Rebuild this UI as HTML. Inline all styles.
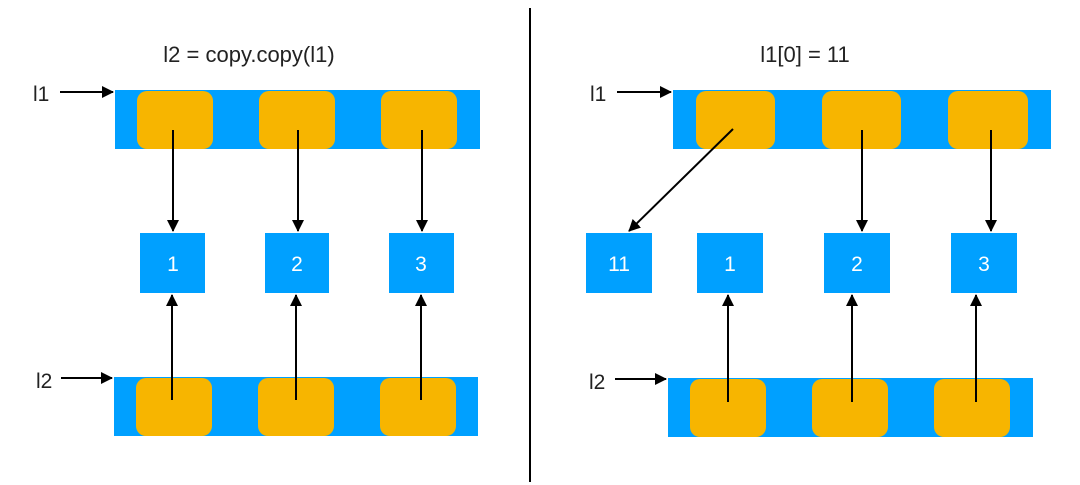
<!DOCTYPE html>
<html><head><meta charset="utf-8"><style>
html,body{margin:0;padding:0;background:#fff;}
svg{display:block;}
text{font-family:"Liberation Sans",sans-serif;}
</style></head><body>
<svg width="1080" height="485" viewBox="0 0 1080 485" xmlns="http://www.w3.org/2000/svg">
<defs>
<marker id="a" markerWidth="12" markerHeight="12" refX="11" refY="6" orient="auto" markerUnits="userSpaceOnUse">
<path d="M0,0 L12,6 L0,12 z" fill="#000"/></marker>
</defs>
<line x1="530" y1="8" x2="530" y2="482" stroke="#000" stroke-width="2"/>
<text x="249" y="62" font-size="22" text-anchor="middle" fill="#222">l2 = copy.copy(l1)</text>
<text x="805" y="62" font-size="22" text-anchor="middle" fill="#222">l1[0] = 11</text>

<!-- left top -->
<text x="33" y="101" font-size="21" fill="#222">l1</text>
<line x1="60" y1="92" x2="113" y2="92" stroke="#000" stroke-width="2" marker-end="url(#a)"/>
<rect x="115" y="90" width="365" height="59" fill="#00a0ff"/>
<rect x="137" y="91" width="76" height="58" rx="10" fill="#f7b500"/>
<rect x="259" y="91" width="76" height="58" rx="10" fill="#f7b500"/>
<rect x="381" y="91" width="76" height="58" rx="10" fill="#f7b500"/>
<g stroke="#000" stroke-width="2" marker-end="url(#a)">
<line x1="173" y1="130" x2="173" y2="231"/>
<line x1="298" y1="130" x2="298" y2="231"/>
<line x1="422" y1="130" x2="422" y2="231"/>
</g>
<g fill="#00a0ff">
<rect x="140" y="233" width="65" height="60"/>
<rect x="265" y="233" width="64" height="60"/>
<rect x="389" y="233" width="65" height="60"/>
</g>
<g font-size="21" fill="#fff" text-anchor="middle">
<text x="173" y="271">1</text><text x="297" y="271">2</text><text x="421" y="271">3</text>
</g>
<!-- left bottom -->
<text x="36" y="388" font-size="21" fill="#222">l2</text>
<line x1="61" y1="378" x2="112" y2="378" stroke="#000" stroke-width="2" marker-end="url(#a)"/>
<rect x="114" y="377" width="364" height="59" fill="#00a0ff"/>
<rect x="136" y="378" width="76" height="58" rx="10" fill="#f7b500"/>
<rect x="258" y="378" width="76" height="58" rx="10" fill="#f7b500"/>
<rect x="380" y="378" width="76" height="58" rx="10" fill="#f7b500"/>
<g stroke="#000" stroke-width="2" marker-end="url(#a)">
<line x1="172" y1="400" x2="172" y2="295"/>
<line x1="296" y1="400" x2="296" y2="295"/>
<line x1="421" y1="400" x2="421" y2="295"/>
</g>

<!-- right top -->
<text x="590" y="101" font-size="21" fill="#222">l1</text>
<line x1="617" y1="92" x2="671" y2="92" stroke="#000" stroke-width="2" marker-end="url(#a)"/>
<rect x="673" y="90" width="378" height="59" fill="#00a0ff"/>
<rect x="696" y="91" width="79" height="58" rx="10" fill="#f7b500"/>
<rect x="822" y="91" width="79" height="58" rx="10" fill="#f7b500"/>
<rect x="948" y="91" width="80" height="58" rx="10" fill="#f7b500"/>
<g stroke="#000" stroke-width="2" marker-end="url(#a)">
<line x1="733" y1="129" x2="629" y2="231"/>
<line x1="862" y1="130" x2="862" y2="231"/>
<line x1="991" y1="130" x2="991" y2="231"/>
</g>
<g fill="#00a0ff">
<rect x="586" y="233" width="66" height="60"/>
<rect x="697" y="233" width="66" height="60"/>
<rect x="824" y="233" width="66" height="60"/>
<rect x="951" y="233" width="66" height="60"/>
</g>
<g font-size="21" fill="#fff" text-anchor="middle">
<text x="619" y="271">11</text><text x="730" y="271">1</text><text x="857" y="271">2</text><text x="984" y="271">3</text>
</g>
<!-- right bottom -->
<text x="589" y="389" font-size="21" fill="#222">l2</text>
<line x1="615" y1="379" x2="666" y2="379" stroke="#000" stroke-width="2" marker-end="url(#a)"/>
<rect x="668" y="378" width="365" height="59" fill="#00a0ff"/>
<rect x="690" y="379" width="76" height="58" rx="10" fill="#f7b500"/>
<rect x="812" y="379" width="76" height="58" rx="10" fill="#f7b500"/>
<rect x="934" y="379" width="76" height="58" rx="10" fill="#f7b500"/>
<g stroke="#000" stroke-width="2" marker-end="url(#a)">
<line x1="728" y1="402" x2="728" y2="295"/>
<line x1="852" y1="402" x2="852" y2="295"/>
<line x1="976" y1="402" x2="976" y2="295"/>
</g>
</svg>
</body></html>
